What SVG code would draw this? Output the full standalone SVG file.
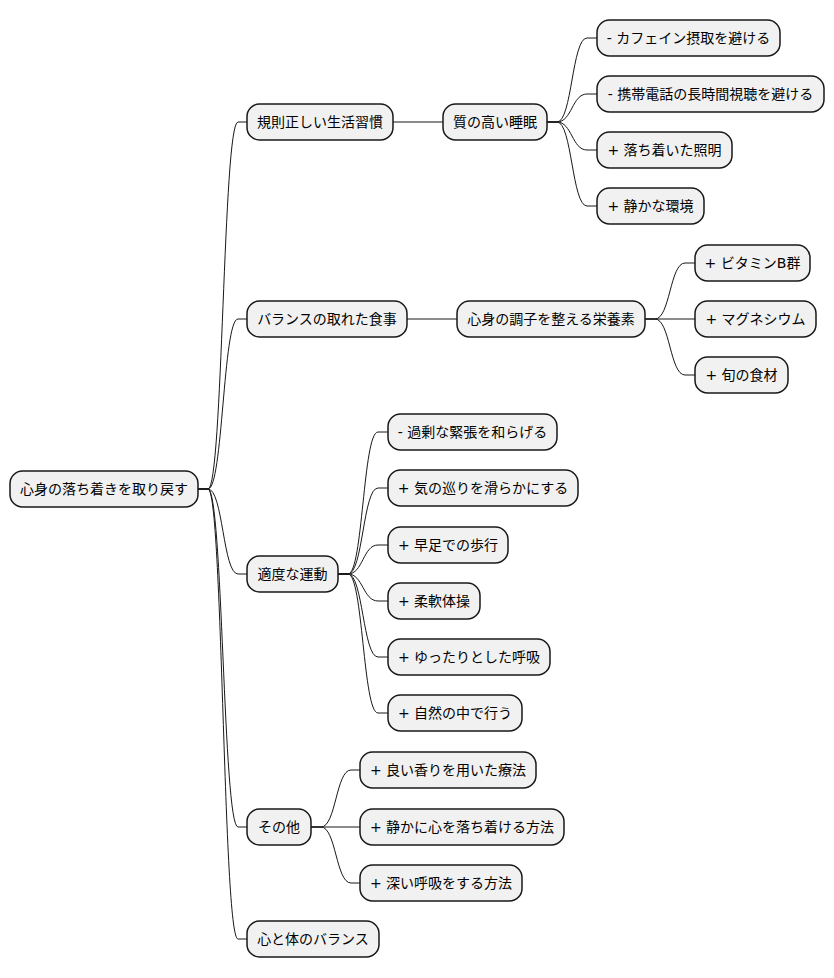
<svg xmlns="http://www.w3.org/2000/svg" width="834" height="978" viewBox="0 0 834 978">
<style>
.n rect{fill:#F1F1F1;stroke:#181818;stroke-width:1.5}
.n text{font-family:"DejaVu Sans","Noto Sans CJK JP",sans-serif;font-size:14px;fill:#000;text-anchor:middle}
#c path{fill:none;stroke:#181818;stroke-width:1}
</style>
<rect width="834" height="978" fill="#fff"/>
<g id="c">
<path d="M198,489 L208,489 C223,489 223,122 238,122 L247,122"/>
<path d="M198,489 L208,489 C223,489 223,319 238,319 L247,319"/>
<path d="M198,489 L208,489 C223,489 223,574 238,574 L247,574"/>
<path d="M198,489 L208,489 C223,489 223,827 238,827 L247,827"/>
<path d="M198,489 L208,489 C223,489 223,939 238,939 L247,939"/>
<path d="M393,122 L443,122"/>
<path d="M407,319 L457,319"/>
<path d="M547,122 L557,122 C572,122 572,38 587,38 L597,38"/>
<path d="M547,122 L557,122 C572,122 572,94 587,94 L597,94"/>
<path d="M547,122 L557,122 C572,122 572,150 587,150 L597,150"/>
<path d="M547,122 L557,122 C572,122 572,206 587,206 L597,206"/>
<path d="M645,319 L655,319 C670,319 670,263 685,263 L695,263"/>
<path d="M645,319 L695,319"/>
<path d="M645,319 L655,319 C670,319 670,375 685,375 L695,375"/>
<path d="M338,574 L348,574 C363,574 363,432 378,432 L388,432"/>
<path d="M338,574 L348,574 C363,574 363,488 378,488 L388,488"/>
<path d="M338,574 L348,574 C363,574 363,545 378,545 L388,545"/>
<path d="M338,574 L348,574 C363,574 363,601 378,601 L388,601"/>
<path d="M338,574 L348,574 C363,574 363,657 378,657 L388,657"/>
<path d="M338,574 L348,574 C363,574 363,713 378,713 L388,713"/>
<path d="M311,827 L321,827 C336,827 336,770 351,770 L360,770"/>
<path d="M311,827 L360,827"/>
<path d="M311,827 L321,827 C336,827 336,883 351,883 L360,883"/>
</g>
<g id="root" class="n"><rect x="10" y="471" width="188" height="36" rx="12.5"/><text x="104" y="494">心身の落ち着きを取り戻す</text></g>
<g id="habit" class="n"><rect x="247" y="104" width="146" height="36" rx="12.5"/><text x="320" y="127">規則正しい生活習慣</text></g>
<g id="sleep" class="n"><rect x="443" y="104" width="104" height="36" rx="12.5"/><text x="495" y="127">質の高い睡眠</text></g>
<g id="s1" class="n"><rect x="597" y="20" width="183" height="36" rx="12.5"/><text x="688.5" y="43">- カフェイン摂取を避ける</text></g>
<g id="s2" class="n"><rect x="597" y="76" width="227" height="36" rx="12.5"/><text x="710.5" y="99">- 携帯電話の長時間視聴を避ける</text></g>
<g id="s3" class="n"><rect x="597" y="132" width="135" height="36" rx="12.5"/><text x="664.5" y="155">+ 落ち着いた照明</text></g>
<g id="s4" class="n"><rect x="597" y="188" width="107" height="36" rx="12.5"/><text x="650.5" y="211">+ 静かな環境</text></g>
<g id="diet" class="n"><rect x="247" y="301" width="160" height="36" rx="12.5"/><text x="327" y="324">バランスの取れた食事</text></g>
<g id="nutr" class="n"><rect x="457" y="301" width="188" height="36" rx="12.5"/><text x="551" y="324">心身の調子を整える栄養素</text></g>
<g id="d1" class="n"><rect x="695" y="245" width="115" height="36" rx="12.5"/><text x="752.5" y="268">+ ビタミンB群</text></g>
<g id="d2" class="n"><rect x="695" y="301" width="121" height="36" rx="12.5"/><text x="755.5" y="324">+ マグネシウム</text></g>
<g id="d3" class="n"><rect x="695" y="357" width="93" height="36" rx="12.5"/><text x="741.5" y="380">+ 旬の食材</text></g>
<g id="exercise" class="n"><rect x="247" y="556" width="91" height="36" rx="12.5"/><text x="292.5" y="579">適度な運動</text></g>
<g id="e1" class="n"><rect x="388" y="414" width="169" height="36" rx="12.5"/><text x="472.5" y="437">- 過剰な緊張を和らげる</text></g>
<g id="e2" class="n"><rect x="388" y="470" width="190" height="36" rx="12.5"/><text x="483" y="493">+ 気の巡りを滑らかにする</text></g>
<g id="e3" class="n"><rect x="388" y="527" width="120" height="36" rx="12.5"/><text x="448" y="550">+ 早足での歩行</text></g>
<g id="e4" class="n"><rect x="388" y="583" width="92" height="36" rx="12.5"/><text x="434" y="606">+ 柔軟体操</text></g>
<g id="e5" class="n"><rect x="388" y="639" width="162" height="36" rx="12.5"/><text x="469" y="662">+ ゆったりとした呼吸</text></g>
<g id="e6" class="n"><rect x="388" y="695" width="134" height="36" rx="12.5"/><text x="455" y="718">+ 自然の中で行う</text></g>
<g id="other" class="n"><rect x="247" y="809" width="64" height="36" rx="12.5"/><text x="279" y="832">その他</text></g>
<g id="o1" class="n"><rect x="360" y="752" width="176" height="36" rx="12.5"/><text x="448" y="775">+ 良い香りを用いた療法</text></g>
<g id="o2" class="n"><rect x="360" y="809" width="204" height="36" rx="12.5"/><text x="462" y="832">+ 静かに心を落ち着ける方法</text></g>
<g id="o3" class="n"><rect x="360" y="865" width="162" height="36" rx="12.5"/><text x="441" y="888">+ 深い呼吸をする方法</text></g>
<g id="balance" class="n"><rect x="247" y="921" width="132" height="36" rx="12.5"/><text x="313" y="944">心と体のバランス</text></g>
</svg>
